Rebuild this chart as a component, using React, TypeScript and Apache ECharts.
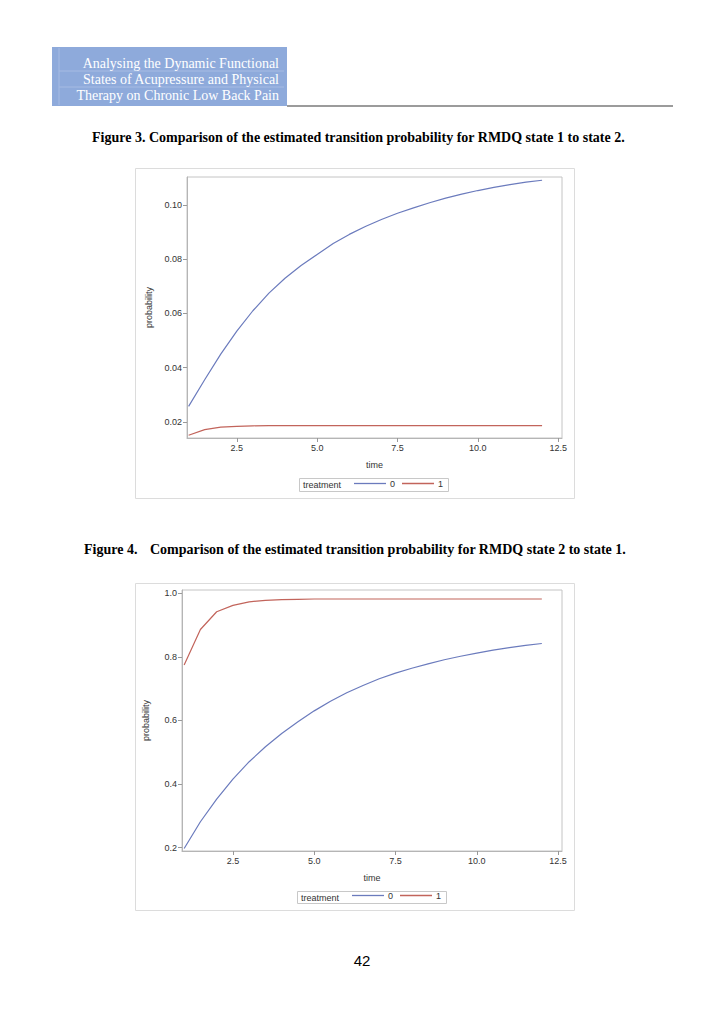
import React, { useEffect, useRef } from "react";
import * as echarts from "echarts";

const time = [1, 1.5, 2, 2.5, 3, 3.5, 4, 4.5, 5, 5.5, 6, 6.5, 7, 7.5, 8, 8.5, 9, 9.5, 10, 10.5, 11, 11.5, 12];

// Figure 3: state 1 -> state 2
const fig3Treat0 = [0.0257, 0.0355, 0.045, 0.0535, 0.061, 0.0675, 0.073, 0.0777, 0.0818, 0.0858, 0.0892, 0.0921, 0.0947, 0.097, 0.099, 0.1009, 0.1026, 0.1041, 0.1054, 0.1066, 0.1076, 0.1085, 0.1092];
const fig3Treat1 = [0.015, 0.0171, 0.018, 0.0183, 0.0185, 0.0186, 0.0186, 0.0186, 0.0186, 0.0186, 0.0186, 0.0186, 0.0186, 0.0186, 0.0186, 0.0186, 0.0186, 0.0186, 0.0186, 0.0186, 0.0186, 0.0186, 0.0186];

// Figure 4: state 2 -> state 1
const fig4Treat0 = [0.197, 0.281, 0.352, 0.415, 0.47, 0.517, 0.559, 0.596, 0.63, 0.66, 0.687, 0.71, 0.731, 0.749, 0.764, 0.778, 0.791, 0.802, 0.812, 0.821, 0.829, 0.836, 0.842];
const fig4Treat1 = [0.774, 0.886, 0.942, 0.962, 0.973, 0.978, 0.98, 0.981, 0.982, 0.982, 0.982, 0.982, 0.982, 0.982, 0.982, 0.982, 0.982, 0.982, 0.982, 0.982, 0.982, 0.982, 0.982];

const xTicks = [2.5, 5, 7.5, 10, 12.5];
const fig3YTicks = [0.02, 0.04, 0.06, 0.08, 0.1];
const fig4YTicks = [0.2, 0.4, 0.6, 0.8, 1.0];
const treatmentNames = ["0", "1"];

const headerLines = ["Analysing the Dynamic Functional", "States of Acupressure and Physical", "Therapy on Chronic Low Back Pain"];
const fig3Caption = "Figure 3. Comparison of the estimated transition probability for RMDQ state 1 to state 2.";
const fig4Label = "Figure 4.";
const fig4Caption = "Comparison of the estimated transition probability for RMDQ state 2 to state 1.";
const pageNumber = "42";

const BLUE = "#6b7bbd";
const RED = "#c2645b";
const SANS = "Liberation Sans, Arial, sans-serif";
const SERIF = "Liberation Serif, Times New Roman, serif";

function pairs(xs: number[], ys: number[]) {
  return xs.map((x, i) => [x, ys[i]]);
}

function xAxisFor(gridIndex: number, min: number, max: number) {
  return {
    type: "value",
    gridIndex,
    min,
    max,
    name: "time",
    nameLocation: "middle",
    nameGap: 22,
    nameTextStyle: { fontFamily: SANS, fontSize: 9, color: "#333" },
    axisLine: { show: true, lineStyle: { color: "#b5b5b5" } },
    axisTick: { show: true, length: 4, lineStyle: { color: "#999" }, customValues: xTicks },
    axisLabel: {
      fontFamily: SANS,
      fontSize: 9,
      color: "#333",
      margin: 5,
      customValues: xTicks,
      formatter: (v: number) => v.toFixed(1),
    },
    splitLine: { show: false },
  };
}

function yAxisFor(gridIndex: number, min: number, max: number, ticks: number[], digits: number) {
  return {
    type: "value",
    gridIndex,
    min,
    max,
    name: "probability",
    nameLocation: "middle",
    nameRotate: 90,
    nameGap: 32,
    nameTextStyle: { fontFamily: SANS, fontSize: 9, color: "#333" },
    axisLine: { show: true, lineStyle: { color: "#b5b5b5" } },
    axisTick: { show: true, length: 4, lineStyle: { color: "#999" }, customValues: ticks },
    axisLabel: {
      fontFamily: SANS,
      fontSize: 9,
      color: "#333",
      margin: 5,
      customValues: ticks,
      formatter: (v: number) => v.toFixed(digits),
    },
    splitLine: { show: false },
  };
}

function lineSeries(name: string, color: string, xi: number, data: number[][]) {
  return {
    type: "line",
    name,
    xAxisIndex: xi,
    yAxisIndex: xi,
    data,
    showSymbol: false,
    symbol: "none",
    lineStyle: { color, width: 1.2 },
    itemStyle: { color },
  };
}

function legendFor(left: number, top: number) {
  return {
    data: [
      { name: treatmentNames[0], itemStyle: { color: BLUE, borderWidth: 0 } },
      { name: treatmentNames[1], itemStyle: { color: RED, borderWidth: 0 } },
    ],
    left,
    top,
    orient: "horizontal",
    icon: "rect",
    itemWidth: 32,
    itemHeight: 1.3,
    itemGap: 7,
    selectedMode: false,
    padding: 0,
    textStyle: { fontFamily: SANS, fontSize: 9, color: "#333", padding: [0, 0, 0, -1] },
  };
}

export default function App() {
  const ref = useRef<HTMLDivElement>(null);

  useEffect(() => {
    if (!ref.current) return;
    const chart = echarts.init(ref.current, undefined, { renderer: "svg" });

    const headerTexts = headerLines.map((t, i) => ({
      type: "text",
      x: 279,
      y: 63 + i * 16,
      style: {
        text: t,
        font: `14px ${SERIF}`,
        fill: "#ffffff",
        align: "right",
        textAlign: "right",
        verticalAlign: "middle",
        textVerticalAlign: "middle",
      },
    }));

    const option = {
      animation: false,
      backgroundColor: "#ffffff",
      grid: [
        { left: 187, top: 177, width: 375, height: 261, show: true, borderColor: "#c4c4c4", borderWidth: 1, backgroundColor: "transparent" },
        { left: 182, top: 590, width: 380, height: 261, show: true, borderColor: "#c4c4c4", borderWidth: 1, backgroundColor: "transparent" },
      ],
      xAxis: [xAxisFor(0, 0.95, 12.62), xAxisFor(1, 0.934, 12.62)],
      yAxis: [
        yAxisFor(0, 0.014, 0.1104, fig3YTicks, 2),
        yAxisFor(1, 0.189, 1.0104, fig4YTicks, 1),
      ],
      legend: [legendFor(354, 479), legendFor(352, 891)],
      series: [
        lineSeries(treatmentNames[0], BLUE, 0, pairs(time, fig3Treat0)),
        lineSeries(treatmentNames[1], RED, 0, pairs(time, fig3Treat1)),
        lineSeries(treatmentNames[0], BLUE, 1, pairs(time, fig4Treat0)),
        lineSeries(treatmentNames[1], RED, 1, pairs(time, fig4Treat1)),
      ],
      graphic: [
        // header block
        { type: "rect", shape: { x: 52, y: 47, width: 235, height: 59 }, style: { fill: "#8eaadb" } },
        { type: "line", shape: { x1: 59, y1: 48, x2: 59, y2: 105 }, style: { stroke: "#a6bbe3", lineWidth: 1 } },
        { type: "line", shape: { x1: 59, y1: 71, x2: 284, y2: 71 }, style: { stroke: "#a6bbe3", lineWidth: 1 } },
        { type: "line", shape: { x1: 59, y1: 87, x2: 284, y2: 87 }, style: { stroke: "#a6bbe3", lineWidth: 1 } },
        ...headerTexts,
        { type: "line", shape: { x1: 287, y1: 106, x2: 673, y2: 106 }, style: { stroke: "#7a7a7a", lineWidth: 1.5 } },
        // captions
        {
          type: "text",
          x: 92,
          y: 137,
          style: { text: fig3Caption, font: `bold 14px ${SERIF}`, fill: "#000", verticalAlign: "middle", textVerticalAlign: "middle" },
        },
        {
          type: "text",
          x: 84,
          y: 549,
          style: { text: fig4Label, font: `bold 14px ${SERIF}`, fill: "#000", verticalAlign: "middle", textVerticalAlign: "middle" },
        },
        {
          type: "text",
          x: 150,
          y: 549,
          style: { text: fig4Caption, font: `bold 14px ${SERIF}`, fill: "#000", verticalAlign: "middle", textVerticalAlign: "middle" },
        },
        // figure frames
        { type: "rect", shape: { x: 135.5, y: 168.5, width: 439, height: 330 }, style: { fill: "none", stroke: "#dcdcdc", lineWidth: 1 } },
        { type: "rect", shape: { x: 135.5, y: 583.5, width: 439, height: 327 }, style: { fill: "none", stroke: "#dcdcdc", lineWidth: 1 } },
        // legend boxes
        { type: "rect", shape: { x: 299.5, y: 478.5, width: 149, height: 13 }, style: { fill: "none", stroke: "#c8c8c8", lineWidth: 1 } },
        { type: "rect", shape: { x: 297.5, y: 891.5, width: 149, height: 12 }, style: { fill: "none", stroke: "#c8c8c8", lineWidth: 1 } },
        {
          type: "text",
          x: 303,
          y: 485,
          style: { text: "treatment", font: `9px ${SANS}`, fill: "#333", verticalAlign: "middle", textVerticalAlign: "middle" },
        },
        {
          type: "text",
          x: 301,
          y: 897.5,
          style: { text: "treatment", font: `9px ${SANS}`, fill: "#333", verticalAlign: "middle", textVerticalAlign: "middle" },
        },
        // page number
        {
          type: "text",
          x: 362,
          y: 960,
          style: { text: pageNumber, font: `15px ${SANS}`, fill: "#000", align: "center", textAlign: "center", verticalAlign: "middle", textVerticalAlign: "middle" },
        },
      ],
    };

    chart.setOption(option as any);
    return () => chart.dispose();
  }, []);

  return (
    <div
      ref={ref}
      style={{ position: "absolute", left: 0, top: 0, width: 725, height: 1024, background: "#fff" }}
    />
  );
}
